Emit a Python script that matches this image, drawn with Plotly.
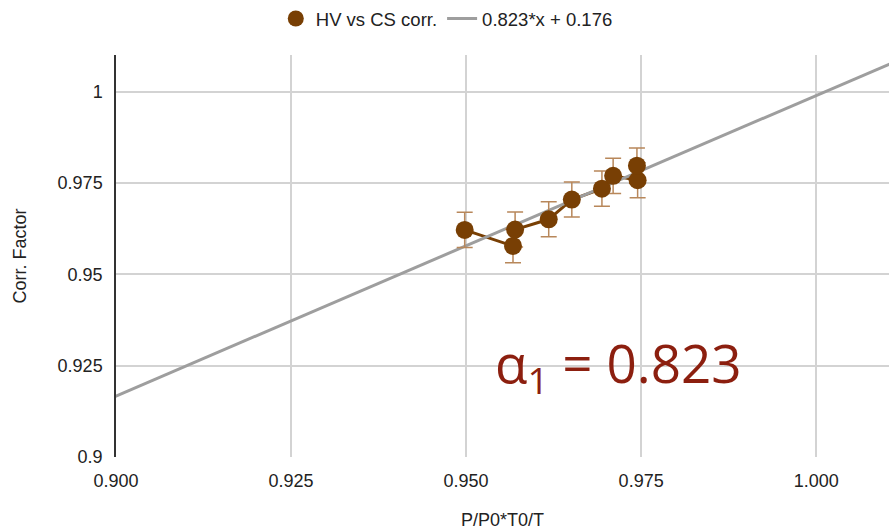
import plotly.graph_objects as go

# Data
x_vals = [0.9498, 0.9567, 0.9570, 0.9618, 0.9651, 0.9694, 0.9710, 0.9745, 0.9744]
y_vals = [0.9622, 0.9578, 0.9623, 0.9651, 0.9705, 0.9735, 0.9770, 0.9758, 0.9798]
y_err = [0.0048, 0.0046, 0.0048, 0.0048, 0.0048, 0.0048, 0.0048, 0.0048, 0.0048]

slope = 0.823
intercept = 0.176
fit_x = [0.89, 1.02]
fit_y = [slope * v + intercept for v in fit_x]

x_ticks = [0.900, 0.925, 0.950, 0.975, 1.000]
x_tick_text = ["0.900", "0.925", "0.950", "0.975", "1.000"]
y_ticks = [0.9, 0.925, 0.95, 0.975, 1.0]
y_tick_text = ["0.9", "0.925", "0.95", "0.975", "1"]

BROWN = "#783f04"
FONT = "Liberation Sans, Arial, sans-serif"

fig = go.Figure()

# connecting line (not in legend)
fig.add_trace(go.Scatter(
    x=x_vals, y=y_vals, mode="lines", showlegend=False, hoverinfo="skip",
    line=dict(color=BROWN, width=3),
))

# fit line
fig.add_trace(go.Scatter(
    x=fit_x, y=fit_y, mode="lines", name="0.823*x + 0.176",
    line=dict(color="#9e9e9e", width=3), legendrank=2,
))

# markers with error bars
fig.add_trace(go.Scatter(
    x=x_vals, y=y_vals, mode="markers", name="HV vs CS corr.",
    marker=dict(color=BROWN, size=18), legendrank=1,
    error_y=dict(type="data", array=y_err, visible=True,
                 color="#b8875a", thickness=1.5, width=8),
))

fig.add_annotation(
    x=0.9539, y=0.9250, xref="x", yref="y", xanchor="left", yanchor="middle",
    text="α<sub>1</sub> = 0.823", showarrow=False,
    font=dict(family="Open Sans", size=53, color="#8c1f0f"),
)

fig.update_layout(
    width=890, height=530,
    margin=dict(l=116, r=1, t=55, b=73),
    plot_bgcolor="white", paper_bgcolor="white",
    font=dict(family=FONT, size=18, color="#222222"),
    showlegend=True,
    legend=dict(orientation="h", xref="container", x=0.502, xanchor="center",
                yref="container", y=1.0, yanchor="top",
                font=dict(size=18.5), itemwidth=30),
    xaxis=dict(range=[0.9, 1.0104], tickvals=x_ticks, ticktext=x_tick_text,
               showgrid=True, gridcolor="#d3d3d3", gridwidth=1.5,
               zeroline=False, showline=False, automargin=False,
               ticks="outside", ticklen=7, tickcolor="rgba(0,0,0,0)",
               tickfont=dict(size=18),
               title=dict(text="P/P0*T0/T", standoff=33, font=dict(size=18))),
    yaxis=dict(range=[0.9, 1.0101], tickvals=y_ticks, ticktext=y_tick_text,
               showgrid=True, gridcolor="#d3d3d3", gridwidth=1.5,
               zeroline=False, showline=True, linecolor="#333333", linewidth=1.5,
               automargin=False,
               ticks="outside", ticklen=8, tickcolor="rgba(0,0,0,0)",
               tickfont=dict(size=18),
               title=dict(text="Corr. Factor", standoff=26, font=dict(size=18))),
)

fig.write_html("out.html")
